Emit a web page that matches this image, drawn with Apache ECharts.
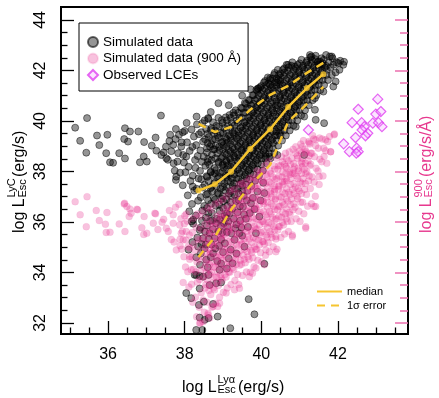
<!DOCTYPE html>
<html><head><meta charset="utf-8">
<script src="https://cdn.jsdelivr.net/npm/echarts@6/dist/echarts.min.js"></script>
<style>html,body{margin:0;padding:0;background:#fff}#c{width:439px;height:398px}</style>
</head><body><div id="c"></div>
<script>
const FONT = '"Liberation Sans", Arial, Helvetica, sans-serif';
const xMajorTicks = [36, 38, 40, 42];
const xMinorTicks = [35, 35.5, 36.5, 37, 37.5, 38.5, 39, 39.5, 40.5, 41, 41.5, 42.5, 43, 43.5];
const yMajorTicks = [32, 34, 36, 38, 40, 42, 44];
const yMinorTicks = [32.5, 33, 33.5, 34.5, 35, 35.5, 36.5, 37, 37.5, 38.5, 39, 39.5, 40.5, 41, 41.5, 42.5, 43, 43.5];

const binX    = [38.36, 38.79, 39.21, 39.71, 40.23, 40.70, 41.19, 41.62];
const medianY = [37.24, 37.49, 37.99, 38.89, 39.67, 40.55, 41.30, 41.85];
const upperY  = [39.88, 39.56, 39.76, 40.44, 41.03, 41.39, 41.90, 42.30];
const lowerY  = [34.61, 35.41, 36.48, 37.43, 38.26, 39.96, 40.67, 41.35];

const observedLCEs = [[43.04,40.86],[42.53,40.46],[42.99,40.27],[43.12,40.37],[42.37,39.93],[42.62,39.93],[42.91,39.91],[43.06,39.93],[43.15,39.77],[42.69,39.77],[42.63,39.64],[42.78,39.51],[42.72,39.41],[42.46,39.34],[42.15,39.09],[42.30,38.78],[42.49,38.92],[42.53,38.78],[42.48,38.72],[41.23,39.64]];

const blackTail = [[35.14,39.73],[35.45,40.11],[35.27,39.21],[35.43,38.74],[35.71,39.42],[35.98,39.45],[35.77,39.04],[35.95,38.72],[36.05,38.36],[36.13,38.34],[36.44,39.71],[36.57,39.58],[36.79,39.58],[36.42,39.28],[36.52,39.18],[36.29,38.72],[36.44,38.51],[36.94,39.16],[36.93,38.59],[36.83,38.36],[37.01,38.39],[37.24,39.34],[37.38,40.21],[37.14,39.02],[37.26,38.82],[37.51,38.98],[37.39,38.65],[37.52,38.52],[37.56,38.46],[37.71,38.32],[37.74,38.03],[37.78,37.79],[37.77,37.66],[37.77,39.68],[37.76,39.28],[37.70,39.05],[37.83,38.72],[37.91,38.98],[37.96,38.65],[37.81,38.39],[38.02,37.97],[38.04,38.59],[38.21,37.40],[37.60,39.20],[37.65,38.80],[37.85,39.45],[37.92,39.15],[37.98,38.35],[37.88,37.95],[37.95,37.45],[38.00,39.60],[37.62,39.45],[37.45,38.75]];

const blackLow = [[38.04,33.18],[38.17,32.98],[38.37,32.71],[38.39,32.21],[38.30,31.72],[38.46,31.72],[38.62,32.19],[38.39,33.36],[38.50,32.84],[38.74,32.75],[38.65,33.50],[38.82,33.57],[38.95,33.60],[39.67,32.94],[39.82,32.34],[39.19,31.79],[38.86,32.25],[38.52,32.12],[40.08,34.34],[38.30,33.90],[38.39,33.86],
[38.22,36.08],[38.39,35.68],[38.48,35.35],[38.35,35.02],[38.65,35.55],[38.82,35.95],[39.08,36.15],[39.30,35.29],[39.43,35.55],[39.56,35.02],[39.25,34.36],[38.91,34.10],[38.74,34.76],[38.56,34.50],[38.48,33.83],[38.26,33.90],[39.86,35.55],[39.95,36.21],[40.08,37.14],[39.73,36.74],[38.30,34.60],[38.52,34.95],[38.70,35.10],[38.95,35.30],[39.10,35.60],[39.20,34.90],[38.40,34.30],[38.62,33.90],[38.85,34.45],[39.00,34.80],[39.35,35.90],[39.55,36.30],[39.65,35.80],[38.20,35.20],[38.10,34.90]];

const blackMix = [[38.45,36.05],[38.58,35.85],[38.62,36.35],[38.72,36.05],[38.78,35.35],[38.88,35.62],[38.92,36.10],[38.98,35.58],[39.02,35.95],[39.12,35.82],[39.18,36.35],[39.22,35.55],[39.28,36.12],[39.32,35.75],[39.38,36.38],[39.45,36.05],[39.48,35.78],[39.52,36.60],[39.60,36.12],[39.62,36.85],[39.70,36.35],[39.78,36.95],[39.82,36.50],[39.90,37.20],[39.98,36.85],[40.05,37.55],[38.55,35.10],[38.68,34.60],[38.80,34.95],[38.90,35.05],[39.05,35.15],[39.15,34.55],[39.35,34.75],[39.50,35.45],[38.42,34.75],[38.60,34.20],[38.95,34.35],[39.10,34.15]];

const blackEdge = [[40.21,38.59],[40.12,38.59],[40.42,38.65],[40.47,39.51],[40.90,39.77],[41.12,38.65],[41.42,40.04],[41.64,39.91],[41.40,40.44],[41.12,40.17],[41.40,40.90],[41.62,41.16],[41.88,41.36],[41.94,41.56],
[38.88,40.70],[39.92,41.29],[40.23,41.43],[40.49,41.43],[40.88,42.15],[41.31,42.55],[41.58,42.22],[41.84,42.55],[41.88,42.22],[41.79,42.55],[42.01,42.29],[42.14,42.22],[41.53,42.35],[41.27,42.61],[39.91,41.27],[40.23,41.69],[40.44,41.62],[40.70,42.22],[41.49,42.22],[37.95,39.55],[38.05,39.92],[38.68,40.35],[39.15,40.62],[39.50,41.00],[39.72,41.25],[40.35,41.90],[42.16,42.34],[41.69,42.61],[38.31,40.17],[38.61,40.11]];

const blackCore = [
[38.12,36.42],[38.08,37.05],[38.15,37.62],[38.10,38.18],[38.13,38.81],[38.06,39.15],[38.18,36.02],
[38.22,35.93],[38.19,36.71],[38.25,37.24],[38.21,37.83],[38.27,38.45],[38.20,38.97],[38.24,39.38],[38.18,39.66],
[38.33,35.38],[38.29,36.25],[38.35,36.84],[38.31,37.31],[38.36,37.72],[38.28,38.14],[38.34,38.61],[38.30,39.04],[38.37,39.47],[38.32,39.86],
[38.44,35.12],[38.41,35.77],[38.46,36.45],[38.42,36.98],[38.47,37.36],[38.43,37.69],[38.40,38.02],[38.45,38.38],[38.41,38.83],[38.48,39.18],[38.43,39.55],[38.46,39.91],
[38.53,35.62],[38.55,36.17],[38.51,36.63],[38.56,37.08],[38.52,37.47],[38.57,37.81],[38.54,38.22],[38.50,38.58],[38.58,38.92],[38.53,39.27],[38.56,39.68],[38.52,40.02],
[38.63,35.33],[38.66,36.04],[38.61,36.86],[38.67,37.33],[38.62,37.62],[38.68,37.97],[38.64,38.27],[38.61,38.49],[38.66,38.98],[38.63,39.36],[38.68,39.64],[38.62,40.08],
[38.74,35.71],[38.71,36.35],[38.76,36.94],[38.72,37.21],[38.77,37.53],[38.73,37.86],[38.78,38.13],[38.71,38.66],[38.75,38.87],[38.72,39.24],[38.77,39.52],[38.74,39.94],
[38.84,36.12],[38.81,36.64],[38.86,37.15],[38.83,37.42],[38.87,37.74],[38.82,38.05],[38.88,38.34],[38.85,38.71],[38.81,39.03],[38.86,39.43],[38.83,39.81],[38.88,40.12],
[38.94,35.84],[38.91,36.43],[38.96,36.92],[38.93,37.31],[38.97,37.63],[38.92,37.94],[38.98,38.24],[38.95,38.53],[38.91,38.84],[38.96,39.14],[38.93,39.52],[38.97,40.03],
[39.04,36.23],[39.01,36.82],[39.06,37.24],[39.03,37.52],[39.07,37.83],[39.02,38.14],[39.08,38.43],[39.05,38.72],[39.01,39.04],[39.06,39.33],[39.03,39.72],[39.07,40.14],
[39.14,36.02],[39.11,36.63],[39.16,37.12],[39.13,37.63],[39.17,37.92],[39.12,38.23],[39.18,38.52],[39.15,38.84],[39.11,39.13],[39.16,39.43],[39.13,39.83],[39.17,40.23],
[39.24,36.52],[39.21,37.03],[39.26,37.42],[39.23,37.73],[39.27,38.04],[39.22,38.33],[39.28,38.63],[39.25,38.93],[39.21,39.22],[39.26,39.53],[39.23,39.92],[39.27,40.32],
[39.34,36.83],[39.31,37.32],[39.36,37.71],[39.33,38.02],[39.37,38.41],[39.32,38.73],[39.38,39.02],[39.35,39.32],[39.31,39.63],[39.36,40.02],[39.33,40.42],
[39.44,36.62],[39.41,37.13],[39.46,37.52],[39.43,37.92],[39.47,38.23],[39.42,38.52],[39.48,38.83],[39.45,39.12],[39.41,39.42],[39.46,39.73],[39.43,40.13],[39.47,40.52],
[39.54,37.03],[39.51,37.43],[39.56,37.82],[39.53,38.13],[39.57,38.42],[39.52,38.73],[39.58,39.02],[39.55,39.33],[39.51,39.62],[39.56,39.93],[39.53,40.32],[39.57,40.71],
[39.64,37.23],[39.61,37.72],[39.66,38.03],[39.63,38.32],[39.67,38.62],[39.62,38.93],[39.68,39.22],[39.65,39.53],[39.61,39.82],[39.66,40.13],[39.63,40.52],[39.67,40.83],
[39.74,37.42],[39.71,37.92],[39.76,38.22],[39.73,38.53],[39.77,38.82],[39.72,39.13],[39.78,39.42],[39.75,39.72],[39.71,40.02],[39.76,40.33],[39.73,40.62],[39.77,41.02],
[39.84,37.63],[39.81,38.12],[39.86,38.42],[39.83,38.72],[39.87,39.02],[39.82,39.33],[39.88,39.62],[39.85,39.92],[39.81,40.22],[39.86,40.53],[39.83,40.82],[39.87,41.23],
[39.94,37.82],[39.91,38.32],[39.96,38.62],[39.93,38.92],[39.97,39.22],[39.92,39.52],[39.98,39.82],[39.95,40.12],[39.91,40.42],[39.96,40.72],[39.93,41.02],[39.97,41.33],
[40.04,38.03],[40.01,38.52],[40.06,38.82],[40.03,39.12],[40.07,39.42],[40.02,39.72],[40.08,40.02],[40.05,40.32],[40.01,40.62],[40.06,40.92],[40.03,41.22],[40.07,41.52],
[40.14,38.32],[40.11,38.72],[40.16,39.02],[40.13,39.32],[40.17,39.62],[40.12,39.92],[40.18,40.22],[40.15,40.52],[40.11,40.82],[40.16,41.12],[40.13,41.42],[40.17,41.72],
[40.24,38.52],[40.21,38.92],[40.26,39.22],[40.23,39.52],[40.27,39.82],[40.22,40.12],[40.28,40.42],[40.25,40.72],[40.21,41.02],[40.26,41.32],[40.23,41.62],
[40.34,38.72],[40.31,39.12],[40.36,39.42],[40.33,39.72],[40.37,40.02],[40.32,40.32],[40.38,40.62],[40.35,40.92],[40.31,41.22],[40.36,41.52],[40.33,41.82],
[40.44,39.02],[40.41,39.42],[40.46,39.72],[40.43,40.02],[40.47,40.32],[40.42,40.62],[40.48,40.92],[40.45,41.22],[40.41,41.52],[40.46,41.82],[40.43,42.02],
[40.54,39.22],[40.51,39.62],[40.56,39.92],[40.53,40.22],[40.57,40.52],[40.52,40.82],[40.58,41.12],[40.55,41.42],[40.51,41.72],[40.56,42.02],
[40.64,39.42],[40.61,39.82],[40.66,40.12],[40.63,40.42],[40.67,40.72],[40.62,41.02],[40.68,41.32],[40.65,41.62],[40.61,41.92],[40.66,42.22],
[40.74,39.62],[40.71,40.02],[40.76,40.32],[40.73,40.62],[40.77,40.92],[40.72,41.22],[40.78,41.52],[40.75,41.82],[40.71,42.12],
[40.84,39.82],[40.81,40.22],[40.86,40.52],[40.83,40.82],[40.87,41.12],[40.82,41.42],[40.88,41.72],[40.85,42.02],[40.81,42.32],
[40.94,40.02],[40.91,40.42],[40.96,40.72],[40.93,41.02],[40.97,41.32],[40.92,41.62],[40.98,41.92],[40.95,42.22],
[41.04,40.22],[41.01,40.62],[41.06,40.92],[41.03,41.22],[41.07,41.52],[41.02,41.82],[41.08,42.12],[41.05,42.42],
[41.14,40.42],[41.11,40.82],[41.16,41.12],[41.13,41.42],[41.17,41.72],[41.12,42.02],[41.18,42.32],
[41.24,40.62],[41.21,41.02],[41.26,41.32],[41.23,41.62],[41.27,41.92],[41.22,42.22],[41.28,42.52],
[41.34,40.82],[41.31,41.22],[41.36,41.52],[41.33,41.82],[41.37,42.12],[41.32,42.42],
[41.44,41.02],[41.41,41.42],[41.46,41.72],[41.43,42.02],[41.47,42.32],[41.42,42.58],
[41.54,41.22],[41.51,41.62],[41.56,41.92],[41.53,42.22],[41.57,42.48],
[41.64,41.42],[41.61,41.82],[41.66,42.12],[41.63,42.42],
[41.74,41.62],[41.71,42.02],[41.76,42.32],
[41.84,41.82],[41.81,42.12],[41.86,42.48],
[41.94,41.92],[41.96,42.32],
[42.04,42.02],[42.06,42.38]];

const blackCore2 = [
[38.58,36.55],[38.60,37.12],[38.59,37.78],[38.60,38.37],[38.58,38.75],[38.60,39.12],[38.59,39.48],
[38.69,36.72],[38.70,37.38],[38.68,37.99],[38.70,38.45],[38.69,39.08],[38.70,39.72],
[38.79,36.88],[38.80,37.58],[38.79,37.92],[38.80,38.52],[38.78,38.88],[38.80,39.28],[38.79,39.62],
[38.90,36.68],[38.89,37.12],[38.90,37.79],[38.89,38.38],[38.90,38.98],[38.89,39.33],[38.90,39.78],
[39.00,36.55],[38.99,37.02],[39.00,37.38],[38.99,37.98],[39.00,38.28],[38.99,38.58],[39.00,38.88],[38.99,39.18],[39.00,39.52],[38.99,39.92],
[39.10,36.32],[39.09,36.90],[39.10,37.38],[39.09,37.78],[39.10,38.08],[39.09,38.38],[39.10,38.68],[39.09,38.98],[39.10,39.28],[39.09,39.62],[39.10,40.02],
[39.20,36.78],[39.19,37.22],[39.20,37.58],[39.19,37.88],[39.20,38.18],[39.19,38.48],[39.20,38.78],[39.19,39.08],[39.20,39.38],[39.19,39.72],[39.20,40.12],
[39.30,37.08],[39.29,37.52],[39.30,37.88],[39.29,38.22],[39.30,38.57],[39.29,38.88],[39.30,39.17],[39.29,39.48],[39.30,39.82],[39.29,40.22],
[39.40,36.88],[39.39,37.32],[39.40,37.72],[39.39,38.08],[39.40,38.38],[39.39,38.68],[39.40,38.98],[39.39,39.28],[39.40,39.58],[39.39,39.92],[39.40,40.32],
[39.50,37.22],[39.49,37.62],[39.50,37.98],[39.49,38.28],[39.50,38.58],[39.49,38.88],[39.50,39.18],[39.49,39.48],[39.50,39.78],[39.49,40.12],[39.50,40.50],
[39.60,37.48],[39.59,37.88],[39.60,38.18],[39.59,38.48],[39.60,38.78],[39.59,39.08],[39.60,39.38],[39.59,39.68],[39.60,39.98],[39.59,40.32],[39.60,40.68],
[39.70,37.68],[39.69,38.08],[39.70,38.38],[39.69,38.68],[39.70,38.98],[39.69,39.28],[39.70,39.58],[39.69,39.88],[39.70,40.18],[39.69,40.48],[39.70,40.82],
[39.80,37.88],[39.79,38.28],[39.80,38.58],[39.79,38.88],[39.80,39.18],[39.79,39.48],[39.80,39.78],[39.79,40.08],[39.80,40.38],[39.79,40.68],[39.80,41.02],
[39.90,38.08],[39.89,38.48],[39.90,38.78],[39.89,39.08],[39.90,39.38],[39.89,39.68],[39.90,39.98],[39.89,40.28],[39.90,40.58],[39.89,40.88],[39.90,41.18],
[40.00,38.28],[39.99,38.68],[40.00,38.98],[39.99,39.28],[40.00,39.58],[39.99,39.88],[40.00,40.18],[39.99,40.48],[40.00,40.78],[39.99,41.08],[40.00,41.38],
[40.10,38.52],[40.09,38.88],[40.10,39.18],[40.09,39.48],[40.10,39.78],[40.09,40.08],[40.10,40.38],[40.09,40.68],[40.10,40.98],[40.09,41.28],[40.10,41.58],
[40.20,38.72],[40.19,39.08],[40.20,39.38],[40.19,39.68],[40.20,39.98],[40.19,40.28],[40.20,40.58],[40.19,40.88],[40.20,41.18],[40.19,41.48],
[40.30,38.92],[40.29,39.28],[40.30,39.58],[40.29,39.88],[40.30,40.18],[40.29,40.48],[40.30,40.78],[40.29,41.08],[40.30,41.38],[40.29,41.68],
[40.40,39.22],[40.39,39.58],[40.40,39.88],[40.39,40.18],[40.40,40.48],[40.39,40.78],[40.40,41.08],[40.39,41.38],[40.40,41.68],
[40.50,39.42],[40.49,39.78],[40.50,40.08],[40.49,40.38],[40.50,40.68],[40.49,40.98],[40.50,41.28],[40.49,41.58],[40.50,41.88],
[40.60,39.62],[40.59,39.98],[40.60,40.28],[40.59,40.58],[40.60,40.88],[40.59,41.18],[40.60,41.48],[40.59,41.78],[40.60,42.08],
[40.70,39.82],[40.69,40.18],[40.70,40.48],[40.69,40.78],[40.70,41.08],[40.69,41.38],[40.70,41.68],[40.69,41.98],
[40.80,40.02],[40.79,40.38],[40.80,40.68],[40.79,40.98],[40.80,41.28],[40.79,41.58],[40.80,41.88],[40.79,42.18],
[40.90,40.22],[40.89,40.58],[40.90,40.88],[40.89,41.18],[40.90,41.48],[40.89,41.78],[40.90,42.08],
[41.00,40.42],[40.99,40.78],[41.00,41.08],[40.99,41.38],[41.00,41.68],[40.99,41.98],[41.00,42.28],
[41.10,40.62],[41.09,40.98],[41.10,41.28],[41.09,41.58],[41.10,41.88],[41.09,42.18],
[41.20,40.82],[41.19,41.18],[41.20,41.48],[41.19,41.78],[41.20,42.08],[41.19,42.38],
[41.30,41.02],[41.29,41.38],[41.30,41.68],[41.29,41.98],[41.30,42.28],
[41.40,41.22],[41.39,41.58],[41.40,41.88],[41.39,42.18],[41.40,42.45],
[41.50,41.42],[41.49,41.78],[41.50,42.08],[41.49,42.35],
[41.60,41.62],[41.59,41.98],[41.60,42.28],
[41.70,41.82],[41.69,42.18]];

const pinkTail = [[35.14,36.80],[35.27,36.28],[35.45,37.00],[35.43,35.81],[35.69,36.45],[35.77,36.05],[35.93,35.91],[35.97,36.37],[35.95,35.58],[36.05,35.59],[36.29,35.92],[36.43,36.74],[36.49,36.61],[36.55,36.21],[36.44,35.62],[36.60,36.34],[36.75,36.50],[36.94,36.21],[36.88,35.77],[37.01,35.55],[36.93,35.50],[37.24,36.32],[37.18,35.95],[37.41,35.99],[37.52,35.75],[37.57,35.62],[37.70,35.95],[37.72,35.20],[37.78,34.89],[37.91,35.55],[37.70,36.28],[38.00,36.24],[37.87,35.88],[38.04,35.62],[37.96,35.29],[38.13,34.96],[37.38,37.27],[36.42,36.71],[36.57,36.51],[36.77,36.48],[37.22,36.34],[37.76,36.58],[37.45,36.10],[37.60,36.45],[37.85,36.70],[37.30,35.70],[37.65,35.30],[37.88,35.05],
[38.39,31.99],[38.48,32.05],[38.61,32.38],[38.86,32.65],[39.08,33.18],[39.30,33.31],[38.65,32.19],[38.74,32.65],[38.91,32.78],[38.13,34.63],[38.17,34.10],[37.96,33.60]];

const pinkEdge = [[41.64,38.59],[41.51,37.79],[41.38,36.61],[41.16,35.75],[40.81,35.42],[40.38,35.42],[40.12,34.89],[39.86,34.17],[39.69,33.83],[41.42,36.61],[41.16,35.81],[40.38,34.82],[40.08,34.30],[39.77,33.97],[39.43,33.37],[41.90,39.45],[41.68,39.25],[41.42,39.25],[41.25,39.12],[41.07,38.98],[41.29,38.72],[41.81,38.78],[41.07,38.19],[40.81,37.93],[40.60,37.60],[40.34,37.20],[40.90,38.72],[40.64,38.19]];

const pinkCore = [
[37.92,34.92],[37.88,35.31],[37.94,35.63],[37.90,36.12],
[38.02,34.21],[37.98,34.62],[38.03,35.28],[37.99,35.93],[38.04,36.31],
[38.11,33.42],[38.08,34.03],[38.13,34.52],[38.09,35.02],[38.12,35.48],[38.07,36.03],
[38.21,32.82],[38.18,33.53],[38.23,34.12],[38.19,34.61],[38.24,35.12],[38.20,35.58],[38.22,36.14],
[38.31,32.24],[38.28,33.02],[38.33,33.61],[38.29,34.02],[38.32,34.41],[38.27,34.88],[38.34,35.32],[38.30,35.79],[38.33,36.31],
[38.41,32.01],[38.38,32.62],[38.43,33.19],[38.39,33.72],[38.42,34.09],[38.37,34.52],[38.44,34.91],[38.40,35.28],[38.43,35.71],[38.39,36.22],
[38.51,32.42],[38.48,32.91],[38.53,33.38],[38.49,33.82],[38.52,34.19],[38.47,34.62],[38.54,35.02],[38.50,35.38],[38.53,35.91],[38.49,36.42],
[38.61,32.31],[38.58,32.82],[38.63,33.28],[38.59,33.71],[38.62,34.12],[38.57,34.49],[38.64,34.92],[38.60,35.31],[38.63,35.72],[38.59,36.12],[38.62,36.58],
[38.71,32.62],[38.68,33.12],[38.73,33.58],[38.69,34.01],[38.72,34.42],[38.67,34.79],[38.74,35.22],[38.70,35.61],[38.73,36.02],[38.69,36.48],
[38.81,32.78],[38.78,33.31],[38.83,33.82],[38.79,34.19],[38.82,34.62],[38.77,35.01],[38.84,35.42],[38.80,35.79],[38.83,36.22],[38.79,36.71],
[38.91,33.02],[38.88,33.48],[38.93,33.91],[38.89,34.32],[38.92,34.69],[38.87,35.12],[38.94,35.48],[38.90,35.92],[38.93,36.31],[38.89,36.78],
[39.01,33.21],[38.98,33.69],[39.03,34.12],[38.99,34.48],[39.02,34.91],[38.97,35.28],[39.04,35.71],[39.00,36.09],[39.03,36.52],[38.99,36.88],
[39.11,33.38],[39.08,33.82],[39.13,34.21],[39.09,34.62],[39.12,34.98],[39.07,35.42],[39.14,35.79],[39.10,36.21],[39.13,36.58],[39.09,37.02],
[39.21,33.52],[39.18,34.01],[39.23,34.38],[39.19,34.82],[39.22,35.19],[39.17,35.62],[39.24,35.98],[39.20,36.42],[39.23,36.79],[39.19,37.22],
[39.31,33.68],[39.28,34.12],[39.33,34.52],[39.29,34.88],[39.32,35.31],[39.27,35.68],[39.34,36.12],[39.30,36.48],[39.33,36.91],[39.29,37.28],
[39.41,33.52],[39.38,33.92],[39.43,34.28],[39.39,34.72],[39.42,35.08],[39.37,35.52],[39.44,35.88],[39.40,36.32],[39.43,36.68],[39.39,37.12],[39.42,37.48],
[39.51,33.88],[39.48,34.32],[39.53,34.68],[39.49,35.12],[39.52,35.48],[39.47,35.92],[39.54,36.28],[39.50,36.72],[39.53,37.08],[39.49,37.52],
[39.61,34.02],[39.58,34.38],[39.63,34.82],[39.59,35.18],[39.62,35.62],[39.57,35.98],[39.64,36.42],[39.60,36.78],[39.63,37.22],[39.59,37.58],
[39.71,34.01],[39.68,34.52],[39.73,34.88],[39.69,35.32],[39.72,35.68],[39.67,36.12],[39.74,36.48],[39.70,36.92],[39.73,37.28],[39.69,37.72],
[39.81,34.22],[39.78,34.58],[39.83,35.02],[39.79,35.38],[39.82,35.82],[39.77,36.18],[39.84,36.62],[39.80,36.98],[39.83,37.42],[39.79,37.78],
[39.91,34.48],[39.88,34.92],[39.93,35.28],[39.89,35.72],[39.92,36.08],[39.87,36.52],[39.94,36.88],[39.90,37.32],[39.93,37.68],[39.89,38.02],
[40.01,34.42],[39.98,34.78],[40.03,35.22],[39.99,35.58],[40.02,36.02],[39.97,36.38],[40.04,36.82],[40.00,37.18],[40.03,37.62],[39.99,37.98],
[40.11,34.68],[40.08,35.12],[40.13,35.48],[40.09,35.92],[40.12,36.28],[40.07,36.72],[40.14,37.08],[40.10,37.52],[40.13,37.88],[40.09,38.22],
[40.21,34.82],[40.18,35.18],[40.23,35.62],[40.19,35.98],[40.22,36.42],[40.17,36.78],[40.24,37.22],[40.20,37.58],[40.23,38.02],[40.19,38.38],
[40.31,35.02],[40.28,35.38],[40.33,35.82],[40.29,36.18],[40.32,36.62],[40.27,36.98],[40.34,37.42],[40.30,37.78],[40.33,38.22],
[40.41,34.92],[40.38,35.32],[40.43,35.68],[40.39,36.12],[40.42,36.48],[40.37,36.92],[40.44,37.28],[40.40,37.72],[40.43,38.08],[40.39,38.52],
[40.51,35.38],[40.48,35.82],[40.53,36.18],[40.49,36.62],[40.52,36.98],[40.47,37.42],[40.54,37.78],[40.50,38.22],[40.53,38.58],
[40.61,35.52],[40.58,35.88],[40.63,36.32],[40.59,36.68],[40.62,37.12],[40.57,37.48],[40.64,37.92],[40.60,38.28],[40.63,38.72],
[40.71,35.62],[40.68,36.02],[40.73,36.38],[40.69,36.82],[40.72,37.18],[40.67,37.62],[40.74,37.98],[40.70,38.42],[40.73,38.78],
[40.81,35.48],[40.78,36.02],[40.83,36.48],[40.79,36.92],[40.82,37.28],[40.77,37.72],[40.84,38.08],[40.80,38.52],[40.83,38.88],
[40.91,36.12],[40.88,36.58],[40.93,37.02],[40.89,37.38],[40.92,37.82],[40.87,38.18],[40.94,38.62],[40.90,38.98],
[41.01,36.02],[40.98,36.42],[41.03,36.78],[40.99,37.22],[41.02,37.58],[40.97,38.02],[41.04,38.38],[41.00,38.82],[41.03,39.08],
[41.11,36.32],[41.08,36.78],[41.13,37.28],[41.09,37.72],[41.12,38.08],[41.07,38.52],[41.14,38.88],[41.10,39.22],
[41.21,36.62],[41.18,37.08],[41.23,37.62],[41.19,37.98],[41.22,38.42],[41.17,38.78],[41.24,39.18],
[41.31,36.72],[41.28,37.32],[41.33,37.78],[41.29,38.28],[41.32,38.72],[41.27,39.08],[41.34,39.42],
[41.41,37.02],[41.38,37.58],[41.43,38.12],[41.39,38.58],[41.42,39.02],[41.37,39.28],
[41.51,37.48],[41.48,38.02],[41.53,38.48],[41.49,38.92],[41.52,39.32],
[41.61,37.82],[41.58,38.38],[41.63,38.92],[41.59,39.28],
[41.71,38.32],[41.68,38.82],[41.73,39.18],
[41.81,38.78],[41.78,39.38],
[41.91,39.48]];

const pinkCore2 = [
[38.55,33.52],[38.56,33.98],[38.55,34.38],[38.56,34.78],[38.55,35.18],[38.56,35.58],
[38.65,33.48],[38.66,33.92],[38.65,34.32],[38.66,34.72],[38.65,35.12],[38.66,35.52],[38.65,35.92],
[38.75,33.38],[38.76,33.82],[38.75,34.22],[38.76,34.62],[38.75,35.02],[38.76,35.42],[38.75,35.82],
[38.85,33.62],[38.86,34.02],[38.85,34.42],[38.86,34.82],[38.85,35.22],[38.86,35.62],[38.85,36.02],
[38.95,33.78],[38.96,34.18],[38.95,34.58],[38.96,34.98],[38.95,35.38],[38.96,35.78],[38.95,36.18],
[39.05,33.92],[39.06,34.32],[39.05,34.72],[39.06,35.12],[39.05,35.52],[39.06,35.92],[39.05,36.32],
[39.15,34.02],[39.16,34.42],[39.15,34.82],[39.16,35.22],[39.15,35.62],[39.16,36.02],[39.15,36.42],
[39.25,34.18],[39.26,34.58],[39.25,34.98],[39.26,35.38],[39.25,35.78],[39.26,36.18],[39.25,36.58],
[39.35,34.32],[39.36,34.72],[39.35,35.12],[39.36,35.52],[39.35,35.92],[39.36,36.32],[39.35,36.72],
[39.45,34.48],[39.46,34.88],[39.45,35.28],[39.46,35.68],[39.45,36.08],[39.46,36.48],[39.45,36.88],
[39.55,34.52],[39.56,34.92],[39.55,35.32],[39.56,35.72],[39.55,36.12],[39.56,36.52],[39.55,36.92],[39.56,37.32],
[39.65,34.62],[39.66,35.02],[39.65,35.42],[39.66,35.82],[39.65,36.22],[39.66,36.62],[39.65,37.02],[39.66,37.42],
[39.75,34.78],[39.76,35.18],[39.75,35.58],[39.76,35.98],[39.75,36.38],[39.76,36.78],[39.75,37.18],[39.76,37.58],
[39.85,34.92],[39.86,35.32],[39.85,35.72],[39.86,36.12],[39.85,36.52],[39.86,36.92],[39.85,37.32],[39.86,37.72],
[39.95,35.08],[39.96,35.48],[39.95,35.88],[39.96,36.28],[39.95,36.68],[39.96,37.08],[39.95,37.48],[39.96,37.88],
[40.05,35.22],[40.06,35.62],[40.05,36.02],[40.06,36.42],[40.05,36.82],[40.06,37.22],[40.05,37.62],[40.06,38.02],
[40.15,35.38],[40.16,35.78],[40.15,36.18],[40.16,36.58],[40.15,36.98],[40.16,37.38],[40.15,37.78],
[40.25,35.52],[40.26,35.92],[40.25,36.32],[40.26,36.72],[40.25,37.12],[40.26,37.52],[40.25,37.92],
[40.35,35.68],[40.36,36.08],[40.35,36.48],[40.36,36.88],[40.35,37.28],[40.36,37.68],[40.35,38.08],
[40.45,35.82],[40.46,36.22],[40.45,36.62],[40.46,37.02],[40.45,37.42],[40.46,37.82],[40.45,38.22],
[40.55,35.98],[40.56,36.38],[40.55,36.78],[40.56,37.18],[40.55,37.58],[40.56,37.98],[40.55,38.38],
[40.65,36.12],[40.66,36.52],[40.65,36.92],[40.66,37.32],[40.65,37.72],[40.66,38.12],[40.65,38.52],
[40.75,36.28],[40.76,36.68],[40.75,37.08],[40.76,37.48],[40.75,37.88],[40.76,38.28],
[40.85,36.72],[40.86,37.12],[40.85,37.52],[40.86,37.92],[40.85,38.32],
[40.95,36.92],[40.96,37.32],[40.95,37.72],[40.96,38.12],[40.95,38.52],
[41.05,37.12],[41.06,37.52],[41.05,37.92],[41.06,38.32],[41.05,38.72],
[41.15,37.52],[41.16,37.92],[41.15,38.32],[41.16,38.72],
[41.25,37.82],[41.26,38.22],[41.25,38.62]];

const simulated = blackTail.concat(blackLow, blackMix, blackEdge, blackCore, blackCore2);
const simulated900 = pinkTail.concat(pinkEdge, pinkCore, pinkCore2);
const pair = (xs, ys) => xs.map((x, i) => [x, ys[i]]);

const GOLD = '#f6c530';
const PINK = '#e7388e';
const xMin = 34.77, xMax = 43.83, yMin = 31.56, yMax = 44.51;

function titleGroup(x, y, rot, sup, rest, color) {
  const st = (t, fs, dx, dy) => ({type:'text', x:dx, y:dy, style:{text:t, fontSize:fs, fontFamily:FONT, fill:color, align:'left', verticalAlign:'middle', textAlign:'left', textVerticalAlign:'middle'}});
  return {type:'group', x:x, y:y, rotation:rot, children:[
    st('log L', 16, 0, 0), st(sup, 11, 35.5, -8), st('Esc', 11, 35.5, 2.5), st(rest, 16, 56, 0)
  ]};
}

const chart = echarts.init(document.getElementById('c'), null, {renderer:'canvas'});
chart.setOption({
  animation: false,
  grid: {left:61, right:31, top:7, bottom:64, show:true, borderColor:'#000', borderWidth:2, backgroundColor:'transparent'},
  xAxis: [
    {type:'value', min:xMin, max:xMax, position:'bottom', axisLine:{show:false}, splitLine:{show:false},
     axisTick:{inside:true, length:13, customValues:xMajorTicks, lineStyle:{color:'#000', width:1.3}},
     axisLabel:{customValues:xMajorTicks, fontSize:16, fontFamily:FONT, color:'#000', margin:13}},
    {type:'value', min:xMin, max:xMax, position:'bottom', axisLine:{show:false}, splitLine:{show:false},
     axisTick:{inside:true, length:6.5, customValues:xMinorTicks, lineStyle:{color:'#000', width:1.3}},
     axisLabel:{show:false}}
  ],
  yAxis: [
    {type:'value', min:yMin, max:yMax, position:'left', axisLine:{show:false}, splitLine:{show:false},
     axisTick:{inside:true, length:13, customValues:yMajorTicks, lineStyle:{color:'#000', width:1.3}},
     axisLabel:{customValues:yMajorTicks, fontSize:16, fontFamily:FONT, color:'#000', margin:12, rotate:90}},
    {type:'value', min:yMin, max:yMax, position:'left', axisLine:{show:false}, splitLine:{show:false},
     axisTick:{inside:true, length:6.5, customValues:yMinorTicks, lineStyle:{color:'#000', width:1.3}},
     axisLabel:{show:false}},
    {type:'value', min:yMin, max:yMax, position:'right', axisLine:{show:false}, splitLine:{show:false},
     axisTick:{inside:true, length:13, customValues:yMajorTicks, lineStyle:{color:'#ec6fae', width:1.5}},
     axisLabel:{show:false}},
    {type:'value', min:yMin, max:yMax, position:'right', axisLine:{show:false}, splitLine:{show:false},
     axisTick:{inside:true, length:8, customValues:yMinorTicks, lineStyle:{color:'#ec6fae', width:1.5}},
     axisLabel:{show:false}}
  ],
  legend: [
    {orient:'vertical', left:79, top:23, padding:[11,7,8,8], itemGap:0.5, itemWidth:10, itemHeight:10,
     borderColor:'#000', borderWidth:1, backgroundColor:'#fff', selectedMode:false,
     textStyle:{fontSize:13.5, fontFamily:FONT, color:'#000', lineHeight:16},
     data:[{name:'Simulated data', icon:'circle'}, {name:'Simulated data (900 Å)', icon:'circle'}, {name:'Observed LCEs', icon:'diamond'}]},
    {orient:'vertical', left:316, top:285, padding:0, itemGap:1, itemWidth:25, itemHeight:10, selectedMode:false,
     itemStyle:{color:'rgba(0,0,0,0)', borderColor:'rgba(0,0,0,0)', borderWidth:0, opacity:0},
     textStyle:{fontSize:11, fontFamily:FONT, color:'#000', lineHeight:13},
     data:['median', '1σ error']}
  ],
  graphic: [
    titleGroup(182, 387.5, 0, 'Lyα', '(erg/s)', '#000'),
    titleGroup(20, 233, Math.PI/2, 'LyC', '(erg/s)', '#000'),
    titleGroup(426.5, 233, Math.PI/2, '900', '(erg/s/Å)', PINK)
  ],
  series: [
    {name:'Simulated data', type:'scatter', data:simulated, symbol:'circle', symbolSize:7, silent:true,
     itemStyle:{color:'rgba(0,0,0,0.52)', borderColor:'rgba(0,0,0,0.75)', borderWidth:0.8}},
    {name:'Simulated data (900 Å)', type:'scatter', data:simulated900, symbol:'circle', symbolSize:7, silent:true,
     itemStyle:{color:'rgba(232,45,140,0.36)', borderColor:'rgba(232,45,140,0.18)', borderWidth:0.5}},
    {name:'Observed LCEs', type:'scatter', data:observedLCEs, symbol:'diamond', symbolSize:10, silent:true,
     itemStyle:{color:'rgba(240,160,255,0.35)', borderColor:'#e040f0', borderWidth:1.2}},
    {name:'median', type:'line', data:pair(binX, medianY), symbol:'none', silent:true,
     lineStyle:{color:GOLD, width:2.5}, itemStyle:{color:GOLD}},
    {name:'medianPts', type:'scatter', data:pair(binX, medianY), symbol:'circle', symbolSize:6, silent:true,
     itemStyle:{color:GOLD}},
    {name:'1σ error', type:'line', data:pair(binX, upperY), symbol:'none', silent:true,
     lineStyle:{color:GOLD, width:2.5, type:[8,6]}, itemStyle:{color:GOLD}},
    {name:'1σ error', type:'line', data:pair(binX, lowerY), symbol:'none', silent:true,
     lineStyle:{color:GOLD, width:2.5, type:[8,6]}, itemStyle:{color:GOLD}}
  ]
});
</script></body></html>
